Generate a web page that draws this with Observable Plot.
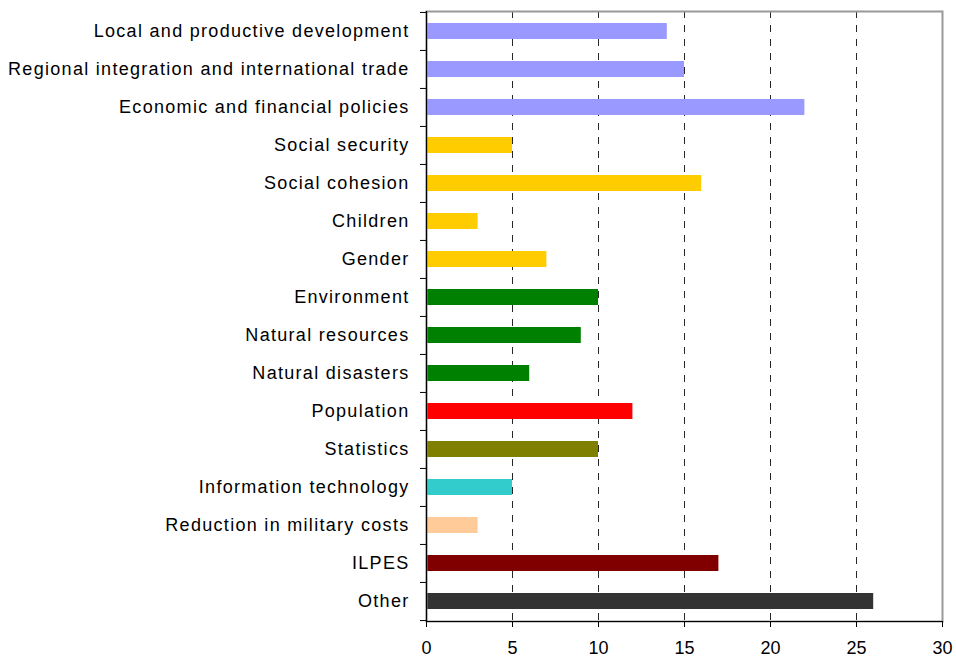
<!DOCTYPE html>
<html>
<head>
<meta charset="utf-8">
<script src="https://cdn.jsdelivr.net/npm/d3@7"></script>
<script src="https://cdn.jsdelivr.net/npm/@observablehq/plot@0.6"></script>
<style>
  html, body { margin: 0; padding: 0; background: #fff; }
  #chart { width: 956px; height: 661px; }
  .ylab text { letter-spacing: 1.3px; }
</style>
</head>
<body>
<div id="chart"></div>
<script>
const categories = [
  "Local and productive development",
  "Regional integration and international trade",
  "Economic and financial policies",
  "Social security",
  "Social cohesion",
  "Children",
  "Gender",
  "Environment",
  "Natural resources",
  "Natural disasters",
  "Population",
  "Statistics",
  "Information technology",
  "Reduction in military costs",
  "ILPES",
  "Other"
];
const values = [14, 15, 22, 5, 16, 3, 7, 10, 9, 6, 12, 10, 5, 3, 17, 26];
const groups = [
  "dev", "dev", "dev",
  "social", "social", "social", "social",
  "env", "env", "env",
  "pop", "stat", "it", "mil", "ilpes", "other"
];
const groupNames = ["dev", "social", "env", "pop", "stat", "it", "mil", "ilpes", "other"];
const groupColors = ["#9999FF", "#FFCC00", "#008000", "#FF0000", "#808000", "#33CCCC", "#FFCC99", "#800000", "#333333"];
const xTicks = [0, 5, 10, 15, 20, 25, 30];
const gridTicks = [5, 10, 15, 20, 25];

const data = categories.map((c, i) => ({category: c, value: values[i], group: groups[i]}));

const W = 956, H = 661;
const mT = 11, mB = 40, mL = 426, mR = 14;
const step = (H - mT - mB) / categories.length;

const chart = Plot.plot({
  width: W,
  height: H,
  marginTop: mT,
  marginBottom: mB,
  marginLeft: mL,
  marginRight: mR,
  style: {fontFamily: "'Liberation Sans', Arial, sans-serif", fontSize: "18px", color: "#000", background: "#fff"},
  x: {domain: [0, 30], ticks: xTicks},
  y: {domain: categories, paddingInner: 0.58, paddingOuter: 0.29, align: 0.5},
  color: {domain: groupNames, range: groupColors},
  marks: [
    Plot.ruleX(gridTicks, {stroke: "#000", strokeWidth: 1, strokeDasharray: "7,7", strokeOpacity: 0.85}),
    Plot.barX(data, {y: "category", x: "value", fill: "group"}),
    Plot.frame({stroke: "#999", strokeWidth: 2}),
    Plot.ruleX([0], {stroke: "#000", strokeWidth: 1.2}),
    Plot.frame({anchor: "bottom", stroke: "#000", strokeWidth: 1.2}),
    Plot.ruleY(categories, {y: d => d, x1: 0, x2: 0, insetLeft: -6, dy: -step / 2, stroke: "#000"}),
    Plot.ruleY(categories.slice(-1), {y: d => d, x1: 0, x2: 0, insetLeft: -6, dy: step / 2, stroke: "#000"}),
    Plot.axisY({tickSize: 0, tickPadding: 17, label: null, fontSize: 18, className: "ylab"}),
    Plot.axisX(xTicks, {tickSize: 6, tickPadding: 14, label: null, fontSize: 18, stroke: "#000"})
  ]
});
document.getElementById("chart").appendChild(chart);
</script>
</body>
</html>
